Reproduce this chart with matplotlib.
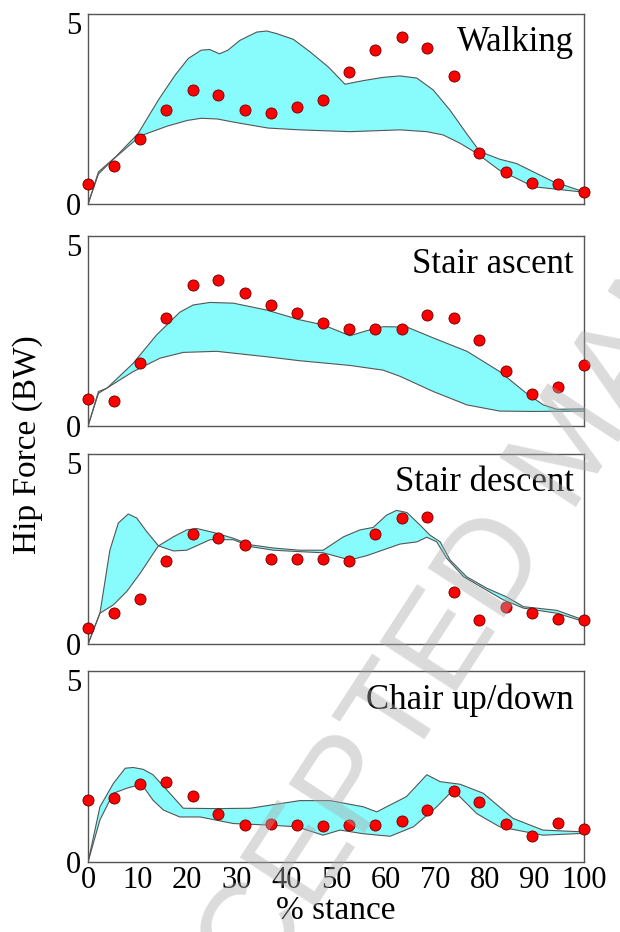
import matplotlib
matplotlib.use('Agg')
import matplotlib.pyplot as plt

plt.rcParams['font.family'] = ['Liberation Serif', 'DejaVu Serif']

# measured points (% stance)
dot_x = [0, 5.3, 10.5, 15.8, 21.1, 26.3, 31.6, 36.8, 42.1, 47.4,
         52.6, 57.9, 63.2, 68.4, 73.7, 78.9, 84.2, 89.5, 94.7, 100]

walk_dots = [0.55, 1.06, 1.79, 2.60, 3.14, 3.02, 2.60, 2.52, 2.69, 2.88,
             3.64, 4.25, 4.62, 4.32, 3.55, 1.42, 0.89, 0.59, 0.55, 0.33]
ascent_dots = [0.75, 0.69, 1.73, 2.97, 3.89, 4.03, 3.68, 3.33, 3.11, 2.85,
               2.69, 2.69, 2.69, 3.05, 2.98, 2.38, 1.53, 0.89, 1.08, 1.69]
descent_dots = [0.43, 0.87, 1.24, 2.30, 3.05, 2.94, 2.74, 2.35, 2.35, 2.34,
                2.29, 3.03, 3.47, 3.50, 1.45, 0.66, 1.02, 0.87, 0.70, 0.66]
chair_dots = [1.72, 1.75, 2.14, 2.21, 1.82, 1.32, 1.02, 1.04, 1.01, 0.99,
              1.03, 1.03, 1.12, 1.43, 1.96, 1.64, 1.05, 0.72, 1.08, 0.92]

# band edges
walk_up_x = [0, 2.1, 5.6, 10.1, 14.2, 17.6, 20.2, 22.8, 24.5, 26.5, 28.2, 30.6, 34, 36, 38, 41.4,
             44.8, 48.5, 51.8, 55.5, 59.5, 62.9, 66.3, 69.6, 73, 76.3, 79, 83, 86.4, 89.8, 93.8, 100]
walk_up_y = [0, 0.89, 1.31, 1.95, 2.88, 3.57, 4.02, 4.25, 4.27, 4.15, 4.25, 4.52, 4.75, 4.78, 4.71, 4.55,
             4.20, 3.78, 3.31, 3.41, 3.50, 3.54, 3.48, 3.15, 2.59, 1.95, 1.45, 1.24, 1.12, 0.89, 0.62, 0.34]
walk_lo_x = [0, 2.1, 5.1, 10.5, 15.9, 20, 22.8, 26.1, 29.5, 36.3, 42.7,
             52.8, 62.9, 68.3, 71.6, 75, 78.4, 83, 86.4, 89.8, 94.5, 100]
walk_lo_y = [0, 0.83, 1.24, 1.88, 2.15, 2.31, 2.37, 2.35, 2.26, 2.10, 2.05,
             2.00, 2.05, 2.00, 1.91, 1.68, 1.40, 0.93, 0.71, 0.48, 0.41, 0.33]

ascent_up_x = [0, 2.1, 3.8, 9.1, 13.8, 18.5, 21.2, 24.6, 29.3, 36, 42.7, 47.4,
               52.8, 56.2, 59.5, 64.3, 69.6, 76.4, 83, 88.4, 91.8, 94.5, 100]
ascent_up_y = [0, 0.95, 1.04, 1.73, 2.51, 3.14, 3.34, 3.41, 3.39, 3.20, 2.93, 2.79,
               2.49, 2.63, 2.74, 2.73, 2.43, 2.06, 1.50, 0.90, 0.58, 0.46, 0.47]
ascent_lo_x = [0, 2.1, 9.1, 14.5, 19.2, 25.9, 36, 42.7, 52.8, 59.5, 62.9, 69.6, 76.4, 83, 89.8, 100]
ascent_lo_y = [0, 0.90, 1.50, 1.87, 2.03, 2.06, 1.91, 1.80, 1.67, 1.54, 1.37, 0.95, 0.58, 0.41, 0.40, 0.41]

descent_up_x = [0, 2.4, 4.4, 6.1, 8.1, 9.8, 11.8, 14.2, 17.2, 19.9, 21.9, 25.3, 29.3, 32.7, 37.4, 42.7, 47.4,
                51.5, 54.8, 57.5, 60.2, 62.2, 64.3, 66.9, 68.9, 71, 73, 76.3, 80.4, 84.4, 87.8, 94.5, 100]
descent_up_y = [0, 0.85, 2.59, 3.34, 3.59, 3.48, 3.11, 2.71, 2.96, 3.15, 3.19, 3.08, 2.92, 2.74, 2.65, 2.59, 2.59,
                2.96, 3.15, 3.22, 3.56, 3.69, 3.63, 3.29, 3.01, 2.82, 2.32, 1.86, 1.54, 1.30, 1.03, 0.93, 0.66]
descent_lo_x = [0, 2.4, 5.1, 7.8, 10.5, 13.2, 14.2, 17.2, 19.9, 24.6, 29.3, 32.7, 37.4, 42.7,
                47.4, 52.8, 56.2, 62.9, 66.3, 68.3, 70.3, 72.3, 75.7, 79.7, 83.7, 87.8, 94.5, 100]
descent_lo_y = [0, 0.85, 1.08, 1.45, 1.95, 2.51, 2.71, 2.57, 2.59, 2.88, 2.88, 2.69, 2.59, 2.55,
                2.52, 2.32, 2.44, 2.76, 2.82, 2.95, 2.82, 2.37, 1.86, 1.54, 1.22, 0.99, 0.85, 0.62]

chair_up_x = [0, 2.4, 5.1, 7.5, 9.1, 11.1, 13.1, 16.5, 19.2, 25.9, 32.7, 42.7,
              48.8, 55.5, 58.2, 64.2, 68.3, 71, 75, 79.7, 85.7, 91.7, 100]
chair_up_y = [0, 1.52, 2.16, 2.58, 2.60, 2.55, 2.40, 1.89, 1.48, 1.47, 1.48, 1.69,
              1.69, 1.52, 1.38, 1.80, 2.40, 2.21, 2.14, 1.89, 1.20, 0.88, 0.83]
chair_lo_x = [0, 2.4, 5.1, 7.8, 10.8, 13.1, 15.2, 18.5, 22.6, 29.3, 36, 42.1,
              47.4, 50.8, 55.5, 60.9, 65.6, 70.3, 73.6, 78.4, 83, 91.7, 100]
chair_lo_y = [0, 1.16, 1.89, 2.03, 2.14, 1.70, 1.43, 1.24, 1.24, 1.06, 1.02, 0.97,
              0.74, 0.88, 0.78, 0.71, 0.97, 1.52, 1.98, 1.33, 0.97, 0.74, 0.79]

titles = ['Walking', 'Stair ascent', 'Stair descent', 'Chair up/down']
dots = [walk_dots, ascent_dots, descent_dots, chair_dots]
bands = [
    (walk_up_x, walk_up_y, walk_lo_x, walk_lo_y),
    (ascent_up_x, ascent_up_y, ascent_lo_x, ascent_lo_y),
    (descent_up_x, descent_up_y, descent_lo_x, descent_lo_y),
    (chair_up_x, chair_up_y, chair_lo_x, chair_lo_y),
]
xticks = [0, 10, 20, 30, 40, 50, 60, 70, 80, 90, 100]

fig = plt.figure(figsize=(6.2, 9.32), dpi=100)

# axes boxes in figure fraction: [bottom, top]
rows = [(0.781, 0.985), (0.543, 0.747), (0.309, 0.513), (0.075, 0.280)]
left, right = 0.142, 0.942

for i in range(4):
    b, t = rows[i]
    ax = fig.add_axes([left, b, right - left, t - b])
    ux, uy, lx, ly = bands[i]
    ax.fill(ux + lx[::-1], uy + ly[::-1], color='#88fcfc', lw=0, zorder=1)
    ax.plot(ux, uy, color='#555555', lw=0.8, zorder=2)
    ax.plot(lx, ly, color='#555555', lw=0.8, zorder=2)
    ax.plot(dot_x, dots[i], 'o', ms=8, mfc='#ff0000', mec='#660000', mew=0.6,
            zorder=3, clip_on=False)
    ax.text(0.98, 0.935, titles[i], transform=ax.transAxes, ha='right', va='top',
            fontsize=25)
    ax.set_xlim(0, 100)
    ax.set_ylim(0, 5.25)
    ax.set_yticks([0, 5])
    ax.set_yticklabels(['0', '5'], fontsize=22)
    ax.tick_params(length=0, pad=5)
    if i == 3:
        ax.set_xticks(xticks)
        ax.set_xticklabels([str(v) for v in xticks], fontsize=22)
        ax.tick_params(axis='x', pad=3)
        ax.set_xlabel('% stance', fontsize=24, labelpad=0)
    else:
        ax.set_xticks([])
    for s in ax.spines.values():
        s.set_color('#555555')
        s.set_linewidth(1.0)

fig.text(0.045, 0.523, 'Hip Force (BW)', rotation=90, ha='center', va='center', fontsize=24)

# faint watermark over the figure
fig.text(0.925, 0.52, 'ACCEPTED MANUSCRIPT', rotation=57, ha='center', va='center',
         fontsize=95, family='Liberation Sans', color='#aaaaaa', alpha=0.42, zorder=10)

fig.savefig('out.png', dpi=100)
